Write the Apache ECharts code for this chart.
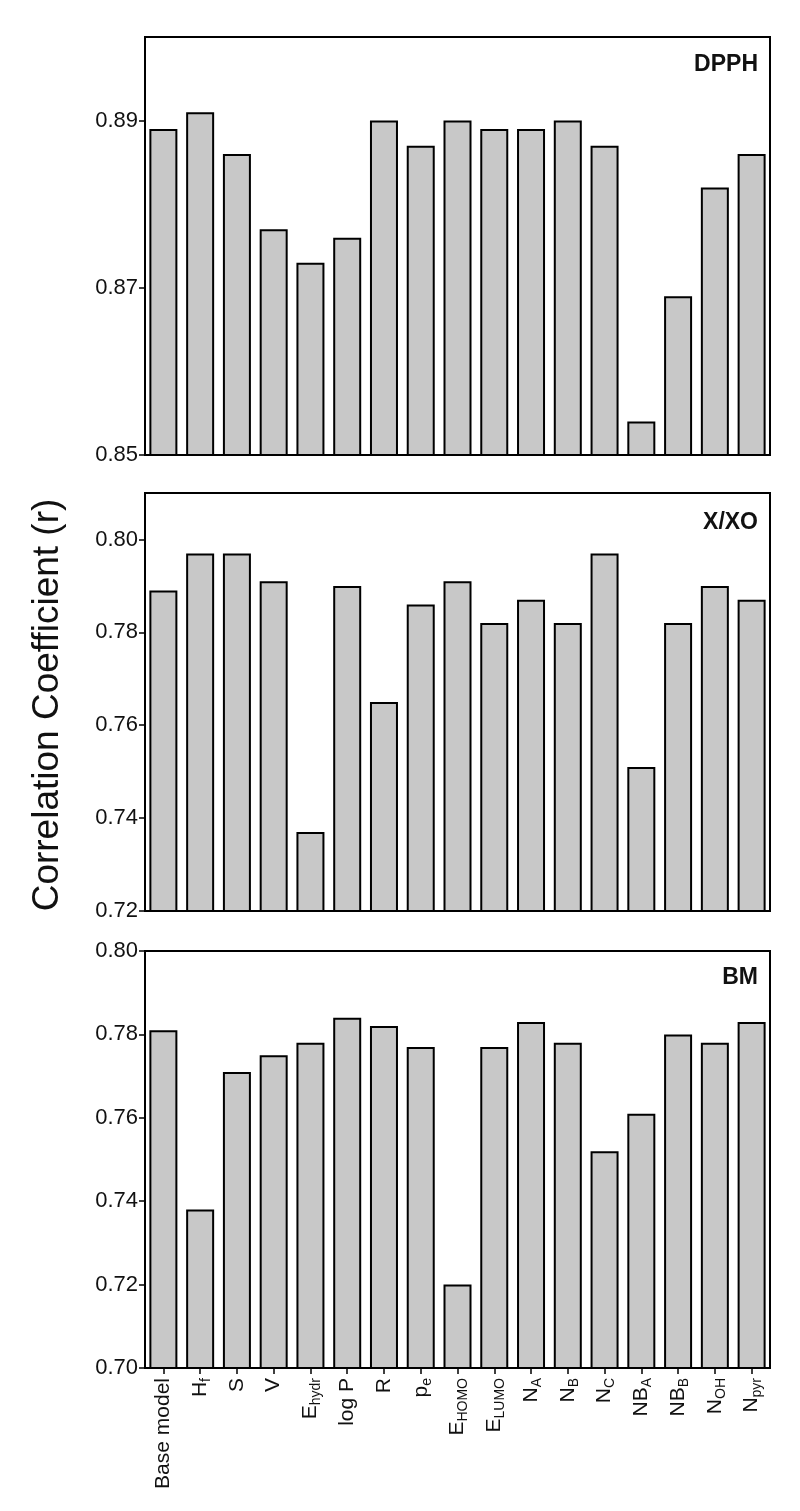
<!DOCTYPE html>
<html>
<head>
<meta charset="utf-8">
<script src="https://cdn.jsdelivr.net/npm/echarts@6/dist/echarts.min.js"></script>
<style>
  html, body { margin: 0; padding: 0; background: #fff; }
  #chart { width: 800px; height: 1511px; }
</style>
</head>
<body>
<div id="chart"></div>
<script>
// Categories ("_" marks a subscript)
const categories = ['Base model', 'H_f', 'S', 'V', 'E_hydr', 'log P', 'R', 'p_e', 'E_HOMO', 'E_LUMO',
  'N_A', 'N_B', 'N_C', 'NB_A', 'NB_B', 'N_OH', 'N_pyr'];

// Series values (correlation coefficient r)
const dpphValues = [0.889, 0.891, 0.886, 0.877, 0.873, 0.876, 0.890, 0.887, 0.890, 0.889, 0.889, 0.890, 0.887, 0.854, 0.869, 0.882, 0.886];
const xxoValues  = [0.789, 0.797, 0.797, 0.791, 0.737, 0.790, 0.765, 0.786, 0.791, 0.782, 0.787, 0.782, 0.797, 0.751, 0.782, 0.790, 0.787];
const bmValues   = [0.781, 0.738, 0.771, 0.775, 0.778, 0.784, 0.782, 0.777, 0.720, 0.777, 0.783, 0.778, 0.752, 0.761, 0.780, 0.778, 0.783];

// Axis ranges and tick labels
const dpphRange = [0.85, 0.90];
const xxoRange  = [0.72, 0.81];
const bmRange   = [0.70, 0.80];
const dpphTicks = [0.85, 0.87, 0.89];
const xxoTicks  = [0.72, 0.74, 0.76, 0.78, 0.80];
const bmTicks   = [0.70, 0.72, 0.74, 0.76, 0.78, 0.80];

const panelNames = ['DPPH', 'X/XO', 'BM'];
const yTitle = 'Correlation Coefficient (r)';

const FONT = '"Liberation Sans", Arial, Helvetica, sans-serif';

const grids = [
  { left: 145, right: 30, top: 37, height: 418 },
  { left: 145, right: 30, top: 493, height: 418 },
  { left: 145, right: 30, top: 951, height: 417 }
];
const panelData = [dpphValues, xxoValues, bmValues];
const ranges = [dpphRange, xxoRange, bmRange];
const ticks = [dpphTicks, xxoTicks, bmTicks];

function fmtCat(c) {
  const i = c.indexOf('_');
  if (i < 0) return '{n|' + c + '}';
  return '{n|' + c.slice(0, i) + '}{s|' + c.slice(i + 1) + '}';
}

const option = {
  backgroundColor: '#fff',
  animation: false,
  grid: grids.map(g => Object.assign({
    show: true, borderColor: '#000', borderWidth: 2, backgroundColor: 'transparent'
  }, g)),
  xAxis: grids.map((g, i) => ({
    type: 'category',
    gridIndex: i,
    data: categories,
    axisLine: { show: true, lineStyle: { color: '#000', width: 2 } },
    axisTick: { show: i === 2, alignWithLabel: true, length: 6, lineStyle: { color: '#000', width: 1.5 } },
    axisLabel: {
      show: i === 2,
      interval: 0,
      rotate: 90,
      margin: 10,
      formatter: fmtCat,
      rich: {
        n: { fontFamily: FONT, fontSize: 21, color: '#111', lineHeight: 26 },
        s: { fontFamily: FONT, fontSize: 14, color: '#111', lineHeight: 14, verticalAlign: 'bottom' }
      }
    }
  })),
  yAxis: grids.map((g, i) => ({
    type: 'value',
    gridIndex: i,
    min: ranges[i][0],
    max: ranges[i][1],
    splitLine: { show: false },
    axisLine: { show: true, lineStyle: { color: '#000', width: 2 } },
    axisTick: { show: true, length: 6, customValues: ticks[i], lineStyle: { color: '#000', width: 1.5 } },
    axisLabel: {
      customValues: ticks[i],
      margin: 7,
      fontFamily: FONT,
      fontSize: 22,
      color: '#111',
      formatter: v => v.toFixed(2)
    }
  })),
  series: panelData.map((d, i) => ({
    type: 'bar',
    xAxisIndex: i,
    yAxisIndex: i,
    data: d,
    barWidth: 28,
    itemStyle: { color: '#c8c8c8', borderColor: '#000', borderWidth: 2 }
  })),
  graphic: [
    {
      type: 'text', x: 48, y: 705, rotation: Math.PI / 2,
      style: { text: yTitle, fontFamily: FONT, fontSize: 37, fill: '#111', align: 'center', verticalAlign: 'middle' }
    },
    {
      type: 'text', x: 758, y: 65,
      style: { text: panelNames[0], fontFamily: FONT, fontSize: 23, fontWeight: 'bold', fill: '#111', align: 'right', verticalAlign: 'middle' }
    },
    {
      type: 'text', x: 758, y: 523,
      style: { text: panelNames[1], fontFamily: FONT, fontSize: 23, fontWeight: 'bold', fill: '#111', align: 'right', verticalAlign: 'middle' }
    },
    {
      type: 'text', x: 758, y: 978,
      style: { text: panelNames[2], fontFamily: FONT, fontSize: 23, fontWeight: 'bold', fill: '#111', align: 'right', verticalAlign: 'middle' }
    }
  ]
};

const chart = echarts.init(document.getElementById('chart'), null, { renderer: 'canvas' });
chart.setOption(option);
</script>
</body>
</html>
